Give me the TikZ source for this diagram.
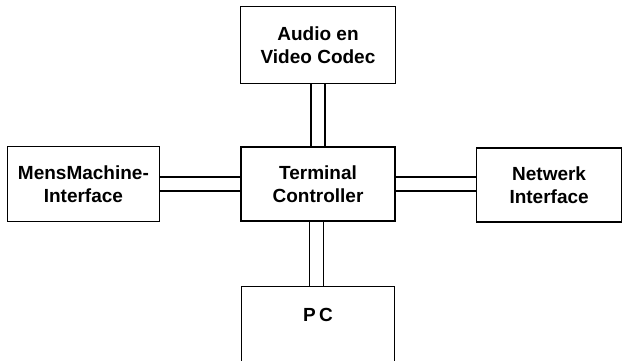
\documentclass[tikz,border=0pt]{standalone}
\usepackage{fontspec}
\setmainfont{Liberation Sans}
\usetikzlibrary{positioning}

\begin{document}
\begin{tikzpicture}[x=1pt, y=1pt, node distance=64pt, font=\bfseries\fontsize{19}{23}\selectfont]
\tikzstyle{block} = [rectangle, draw, line width=1.6pt, align=center, inner sep=0pt]
\tikzstyle{link} = [draw, double, line width=1.5pt, double distance=12.5pt]
\useasboundingbox (0,0) rectangle (624,-361);
\clip (0,0) rectangle (624,-361);
\node [block, minimum width=154pt, minimum height=74pt] (ctrl) at (318,-184) {Terminal\\Controller};
\node [block, above=62pt of ctrl, minimum width=155pt, minimum height=77pt] (codec) {Audio en\\Video Codec};
\node [block, left=80pt of ctrl, minimum width=152pt, minimum height=75pt] (mmi) {MensMachine-\\Interface};
\node [block, right=80pt of ctrl, minimum width=145pt, minimum height=74pt, yshift=-1pt] (net) {Netwerk\\Interface};
\node [block, below=64pt of ctrl, minimum width=153pt, minimum height=84pt] (pc) {};
\node [below=22pt of pc.north, inner sep=0pt] (pctext) {P\,C};
\path [link] (codec) -- (ctrl);
\path [link] (mmi.east) -- (mmi.east -| ctrl.west);
\path [link] (ctrl.east) -- (ctrl.east -| net.west);
\path [link] ([xshift=-1.5pt]ctrl.south) -- ([xshift=-1.5pt]pc.north);
\end{tikzpicture}
\end{document}
